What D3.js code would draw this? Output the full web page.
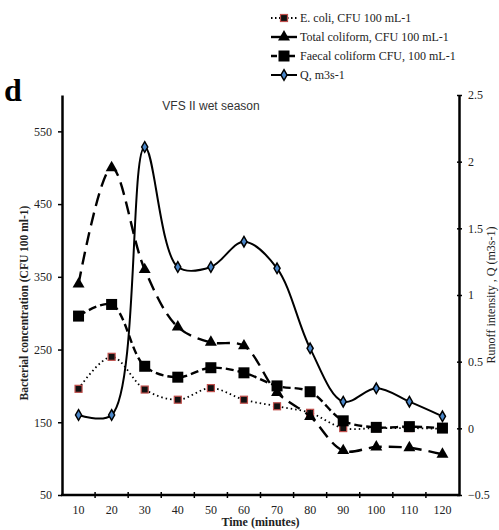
<!DOCTYPE html>
<html>
<head>
<meta charset="utf-8">
<script src="https://cdn.jsdelivr.net/npm/d3@7/dist/d3.min.js"></script>
<style>
  body { margin: 0; background: #fff; }
  svg { display: block; }
  text { font-family: "Liberation Serif", "Times New Roman", serif; }
</style>
</head>
<body>
<div id="chart"></div>
<script>
// time (minutes)
const times = [10, 20, 30, 40, 50, 60, 70, 80, 90, 100, 110, 120];
// bacterial concentrations, CFU 100 mL-1
const eColi = [196, 240, 195, 181, 197, 181, 172, 163, 142, 142, 142, 141];
const totalColiform = [340, 500, 360, 281, 260, 255, 191, 158, 111, 116, 115, 106];
const faecalColiform = [296, 312, 227, 212, 225, 218, 200, 192, 152, 143, 144, 142];
// runoff intensity, m3s-1
const runoffQ = [0.1, 0.1, 2.11, 1.21, 1.21, 1.4, 1.2, 0.6, 0.2, 0.3, 0.2, 0.09];

const leftTicks = [50, 150, 250, 350, 450, 550];
const rightTicks = [-0.5, 0, 0.5, 1, 1.5, 2, 2.5];

const width = 499, height = 530;
const plotL = 62, plotR = 459, plotT = 95, plotB = 495;

const svg = d3.select("#chart").append("svg")
    .attr("width", width)
    .attr("height", height);

const x = d3.scaleBand().domain(times).range([plotL, plotR]).padding(0);
const yL = d3.scaleLinear().domain([50, 600]).range([plotB, plotT]);
const yR = d3.scaleLinear().domain([-0.5, 2.5]).range([plotB, plotT]);
const cx = d => x(d) + x.bandwidth() / 2;

// series definitions
const series = [
    {name: "E. coli, CFU 100 mL-1", values: eColi, scale: yL, dash: "1.5,3", lw: 1.8, marker: "smallsquare"},
    {name: "Total coliform, CFU 100 mL-1", values: totalColiform, scale: yL, dash: "13,7", lw: 2.4, marker: "triangle"},
    {name: "Faecal coliform CFU, 100 mL-1", values: faecalColiform, scale: yL, dash: "8,4", lw: 2.4, marker: "square"},
    {name: "Q, m3s-1", values: runoffQ, scale: yR, dash: null, lw: 2, marker: "diamond"}
];

function drawMarker(g, type, px, py){
    if(type === "smallsquare"){
        g.append("rect").attr("x", px - 3.5).attr("y", py - 3.5)
            .attr("width", 7).attr("height", 7)
            .attr("fill", "#111").attr("stroke", "#c0504d").attr("stroke-width", 1.2);
    } else if(type === "square"){
        g.append("rect").attr("x", px - 5.5).attr("y", py - 5.5)
            .attr("width", 11).attr("height", 11).attr("fill", "#000");
    } else if(type === "triangle"){
        g.append("path").attr("d", d3.symbol(d3.symbolTriangle, 62)())
            .attr("transform", "translate(" + px + "," + py + ")")
            .attr("fill", "#000");
    } else if(type === "diamond"){
        g.append("path").attr("d", d3.symbol(d3.symbolDiamond, 32)())
            .attr("transform", "translate(" + px + "," + py + ")")
            .attr("fill", "#4a86c8").attr("stroke", "#000").attr("stroke-width", 1.5);
    }
}

const line = d3.line().curve(d3.curveCatmullRom.alpha(0.5));

series.forEach(function(s){
    const pts = s.values.map((v, i) => [cx(times[i]), s.scale(v)]);
    svg.append("path")
        .attr("d", line(pts))
        .attr("fill", "none")
        .attr("stroke", "#000")
        .attr("stroke-width", s.lw)
        .attr("stroke-dasharray", s.dash);
    const g = svg.append("g");
    pts.forEach(p => drawMarker(g, s.marker, p[0], p[1]));
});

// axes
const axisStyle = function(g){
    g.select(".domain").attr("stroke", "#000").attr("stroke-width", 2.5);
    g.selectAll(".tick line").attr("stroke", "#000").attr("stroke-width", 1.5);
    g.selectAll(".tick text").attr("font-size", 12).attr("fill", "#222")
        .style("font-family", "Liberation Serif, serif");
};

svg.append("g")
    .attr("transform", "translate(" + plotL + ",0)")
    .call(d3.axisLeft(yL).tickValues(leftTicks).tickSize(4).tickSizeOuter(0).tickPadding(6))
    .call(axisStyle);

svg.append("g")
    .attr("transform", "translate(" + plotR + ",0)")
    .call(d3.axisRight(yR).tickValues(rightTicks).tickSize(3).tickSizeOuter(0).tickPadding(6)
        .tickFormat(d => d3.format("")(d)))
    .call(axisStyle)
    .call(g => g.selectAll(".tick line").attr("x1", -2));

const xAxis = svg.append("g")
    .attr("transform", "translate(0," + plotB + ")")
    .call(d3.axisBottom(x).tickSize(0).tickPadding(10))
    .call(axisStyle);
xAxis.select(".domain").attr("d", "M" + (plotL - 1) + ",0H" + (plotR + 1));
// tick marks between categories
svg.append("g").selectAll("line")
    .data(times.slice(1))
    .join("line")
    .attr("x1", d => x(d)).attr("x2", d => x(d))
    .attr("y1", plotB - 3).attr("y2", plotB + 3)
    .attr("stroke", "#000").attr("stroke-width", 1.5);

// axis titles
svg.append("text")
    .attr("transform", "translate(28," + ((plotT + plotB) / 2 + 8) + ") rotate(-90)")
    .attr("text-anchor", "middle")
    .attr("font-size", 11.5).attr("font-weight", "bold").attr("fill", "#222")
    .text("Bacterial concentration (CFU 100 ml-1)");

svg.append("text")
    .attr("transform", "translate(495," + ((plotT + plotB) / 2) + ") rotate(-90)")
    .attr("text-anchor", "middle")
    .attr("font-size", 12).attr("fill", "#222")
    .text("Runoff intensity , Q (m3s-1)");

svg.append("text")
    .attr("x", (plotL + plotR) / 2).attr("y", 526)
    .attr("text-anchor", "middle")
    .attr("font-size", 12).attr("font-weight", "bold").attr("fill", "#222")
    .text("Time (minutes)");

// chart title and panel letter
svg.append("text")
    .attr("x", 211).attr("y", 110)
    .attr("text-anchor", "middle")
    .attr("font-size", 12).attr("fill", "#333")
    .style("font-family", "Liberation Sans, Arial, sans-serif")
    .text("VFS II wet season");

svg.append("text")
    .attr("x", 4).attr("y", 101)
    .attr("font-size", 32).attr("font-weight", "bold").attr("fill", "#000")
    .text("d");

// legend
const legend = svg.append("g");
series.forEach(function(s, i){
    const ly = 18 + i * 19;
    const g = legend.append("g");
    g.append("line")
        .attr("x1", 271).attr("x2", 297).attr("y1", ly).attr("y2", ly)
        .attr("stroke", "#000").attr("stroke-width", s.lw)
        .attr("stroke-dasharray", s.dash ? (s.marker === "smallsquare" ? "1.5,2.5" : (s.marker === "triangle" ? null : "6,3")) : null);
    drawMarker(g, s.marker, 284, ly);
    g.append("text")
        .attr("x", 300).attr("y", ly + 4)
        .attr("font-size", 12).attr("fill", "#222")
        .text(s.name);
});
</script>
</body>
</html>
